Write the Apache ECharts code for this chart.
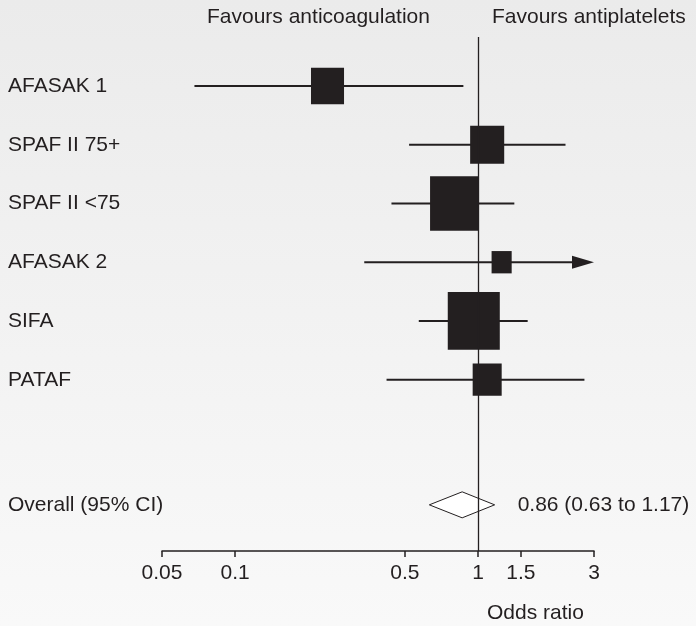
<!DOCTYPE html>
<html>
<head>
<meta charset="utf-8">
<script src="https://cdn.jsdelivr.net/npm/echarts@6/dist/echarts.min.js"></script>
<style>
  html, body { margin: 0; padding: 0; }
  #chart { width: 696px; height: 626px; }
</style>
</head>
<body>
<div id="chart"></div>
<script>
// study data (odds ratios)
const studies = ["AFASAK 1", "SPAF II 75+", "SPAF II <75", "AFASAK 2", "SIFA", "PATAF"];
const estimates = [0.24, 1.09, 0.80, 1.25, 0.96, 1.09];
const lowerCI = [0.068, 0.52, 0.44, 0.34, 0.57, 0.42];
const upperCI = [0.87, 2.29, 1.41, 4.5, 1.60, 2.74];
const weights = [12.7, 13.5, 27.9, 4.7, 31.5, 9.8]; // % weight, drives box area

const overallLabel = "Overall (95% CI)";
const overall = [0.86, 0.63, 1.17]; // estimate, lower, upper

const tickValues = [0.05, 0.1, 0.5, 1, 1.5, 3];
const tickLabels = ["0.05", "0.1", "0.5", "1", "1.5", "3"];

// layout constants
const ink = "#231f20";
const font = "Liberation Sans, Arial, Helvetica, sans-serif";
const overallRow = 7.13;
const boxScale = 9.27;
const boxAspect = 1.11;

const xMin = Math.log10(tickValues[0]);
const xMax = Math.log10(tickValues[tickValues.length - 1]);
const tickLogs = tickValues.map(v => Math.log10(v));

function tickText(v) {
  let best = 0;
  tickLogs.forEach((t, i) => { if (Math.abs(t - v) < Math.abs(tickLogs[best] - v)) best = i; });
  return tickLabels[best];
}

const studyData = studies.map((s, i) => [
  Math.log10(estimates[i]), i, Math.log10(lowerCI[i]), Math.log10(upperCI[i]), weights[i]
]);

function renderStudy(params, api) {
  const y = api.value(1);
  const est = api.coord([api.value(0), y]);
  const lo = api.coord([api.value(2), y]);
  const hiVal = api.value(3);
  const clipped = hiVal > xMax;
  const hi = api.coord([clipped ? xMax : hiVal, y]);
  const w = Math.sqrt(api.value(4)) * boxScale;
  const h = w * boxAspect;
  const children = [
    { type: "line", shape: { x1: lo[0], y1: lo[1], x2: clipped ? hi[0] - 12 : hi[0], y2: hi[1] },
      style: { stroke: ink, lineWidth: 2 } },
    { type: "rect", shape: { x: est[0] - w / 2, y: est[1] - h / 2, width: w, height: h },
      style: { fill: ink } }
  ];
  if (clipped) {
    children.push({ type: "polygon",
      shape: { points: [[hi[0], hi[1]], [hi[0] - 22, hi[1] - 6.5], [hi[0] - 22, hi[1] + 6.5]] },
      style: { fill: ink } });
  }
  return { type: "group", children };
}

function renderOverall(params, api) {
  const y = api.value(1);
  const est = api.coord([api.value(0), y]);
  const lo = api.coord([api.value(2), y]);
  const hi = api.coord([api.value(3), y]);
  const half = 13;
  return {
    type: "group",
    children: [
      { type: "polygon",
        shape: { points: [[lo[0], lo[1]], [est[0], est[1] - half], [hi[0], hi[1]], [est[0], est[1] + half]] },
        style: { fill: "#ffffff", stroke: ink, lineWidth: 1 } },
      { type: "text",
        style: {
          text: overall[0].toFixed(2) + " (" + overall[1].toFixed(2) + " to " + overall[2].toFixed(2) + ")",
          x: hi[0] + 23, y: hi[1], verticalAlign: "middle", align: "left",
          fontSize: 21, fontFamily: font, fill: ink
        } }
    ]
  };
}

const rowValues = studies.map((s, i) => i).concat([overallRow]);
const rowNames = studies.concat([overallLabel]);

const myChart = echarts.init(document.getElementById("chart"));

const option = {
  animation: false,
  backgroundColor: new echarts.graphic.LinearGradient(0, 0, 0, 1, [
    { offset: 0, color: "#ebebeb" },
    { offset: 1, color: "#f9f9f9" }
  ]),
  textStyle: { fontFamily: font },
  title: [
    { text: "Favours anticoagulation", left: 207, top: 7, padding: 0,
      textStyle: { fontSize: 21, fontWeight: "normal", color: ink, fontFamily: font } },
    { text: "Favours antiplatelets", left: 492, top: 7, padding: 0,
      textStyle: { fontSize: 21, fontWeight: "normal", color: ink, fontFamily: font } },
    { text: "Odds ratio", left: 487, top: 603, padding: 0,
      textStyle: { fontSize: 21, fontWeight: "normal", color: ink, fontFamily: font } }
  ],
  grid: { left: 162, right: 102, top: 37, bottom: 75, outerBoundsMode: "none" },
  xAxis: {
    type: "value",
    min: xMin,
    max: xMax,
    splitLine: { show: false },
    axisLine: { show: true, onZero: false, lineStyle: { color: ink, width: 1.5 } },
    axisTick: { show: true, customValues: tickLogs, length: 6, lineStyle: { color: ink, width: 1.5 } },
    axisLabel: { customValues: tickLogs, formatter: tickText, fontSize: 21, color: ink, margin: 12, fontFamily: font }
  },
  yAxis: {
    type: "value",
    inverse: true,
    min: -0.834,
    max: 7.916,
    splitLine: { show: false },
    axisLine: { show: false },
    axisTick: { show: false },
    axisLabel: {
      customValues: rowValues,
      formatter: v => rowNames[rowValues.indexOf(v)] || "",
      align: "left",
      margin: 154,
      fontSize: 21,
      color: ink,
      fontFamily: font
    }
  },
  series: [
    {
      type: "line",
      data: [],
      z: 1,
      markLine: {
        silent: true,
        symbol: "none",
        label: { show: false },
        lineStyle: { color: ink, width: 1.3, type: "solid" },
        data: [{ xAxis: 0 }]
      }
    },
    {
      type: "custom",
      z: 3,
      renderItem: renderStudy,
      encode: { x: [0, 2, 3], y: 1 },
      data: studyData
    },
    {
      type: "custom",
      z: 3,
      renderItem: renderOverall,
      encode: { x: [0, 2, 3], y: 1 },
      data: [[Math.log10(overall[0]), overallRow, Math.log10(overall[1]), Math.log10(overall[2])]]
    }
  ]
};

myChart.setOption(option);
</script>
</body>
</html>
